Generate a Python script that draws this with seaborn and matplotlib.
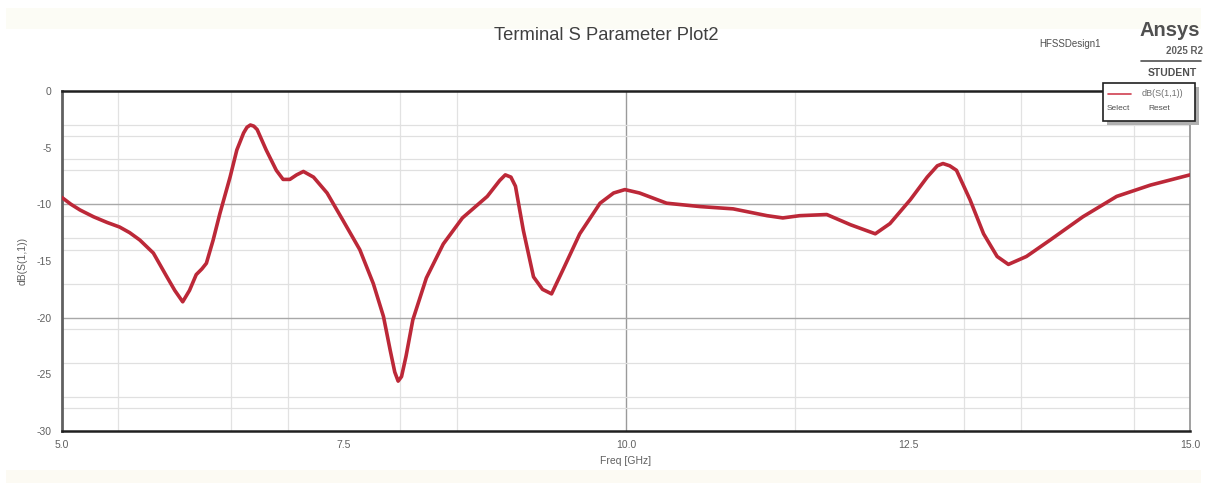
import matplotlib
matplotlib.use("Agg")
import matplotlib.pyplot as plt
from matplotlib.patches import Rectangle
import seaborn as sns
import pandas as pd

# ---------------- data ----------------
freq_ghz = [5.00, 5.08, 5.16, 5.28, 5.40, 5.51, 5.60, 5.69, 5.81, 5.93, 6.00, 6.07,
            6.13, 6.19, 6.24, 6.28, 6.34, 6.40, 6.49, 6.55, 6.61, 6.64, 6.67, 6.70,
            6.73, 6.81, 6.90, 6.96, 7.02, 7.08, 7.14, 7.23, 7.35, 7.49, 7.64, 7.76,
            7.85, 7.91, 7.95, 7.98, 8.01, 8.05, 8.11, 8.23, 8.38, 8.55, 8.77, 8.88,
            8.93, 8.98, 9.02, 9.09, 9.18, 9.26, 9.34, 9.44, 9.59, 9.77, 9.89, 9.99,
            10.12, 10.36, 10.66, 10.95, 11.25, 11.39, 11.54, 11.78, 11.99, 12.21,
            12.34, 12.52, 12.67, 12.76, 12.81, 12.87, 12.93, 13.05, 13.17, 13.29,
            13.39, 13.55, 13.76, 14.05, 14.35, 14.65, 15.00]
s11_db = [-9.4, -10.0, -10.5, -11.1, -11.6, -12.0, -12.5, -13.15, -14.3, -16.4, -17.6, -18.6,
          -17.6, -16.2, -15.7, -15.2, -13.15, -10.8, -7.6, -5.2, -3.7, -3.2, -3.0, -3.1,
          -3.4, -5.2, -7.0, -7.8, -7.8, -7.4, -7.1, -7.6, -9.0, -11.4, -14.0, -17.0,
          -19.9, -22.9, -24.8, -25.6, -25.2, -23.4, -20.2, -16.5, -13.5, -11.2, -9.3, -7.9,
          -7.4, -7.6, -8.4, -12.3, -16.4, -17.5, -17.9, -15.8, -12.6, -9.9, -9.0, -8.7,
          -9.0, -9.9, -10.2, -10.4, -11.0, -11.2, -11.0, -10.9, -11.8, -12.6,
          -11.7, -9.6, -7.6, -6.6, -6.4, -6.6, -7.0, -9.6, -12.6, -14.6,
          -15.3, -14.6, -13.15, -11.1, -9.3, -8.3, -7.4]

x_major = [5.0, 7.5, 10.0, 12.5, 15.0]
x_grid = [5.5, 6.5, 7.0, 8.0, 8.5, 10.0, 11.5, 13.0, 13.5, 14.5]
y_major = [0, -5, -10, -15, -20, -25, -30]
y_grid = [-3, -4, -6, -7, -10, -11, -13, -14, -17, -20, -21, -24, -27, -28]

title = "Terminal S Parameter Plot2"
x_label = "Freq [GHz]"
y_label = "dB(S(1,1))"
series_name = "dB(S(1,1))"

df = pd.DataFrame({"freq": freq_ghz, "s11": s11_db})

# ---------------- style ----------------
sns.set_style("white")
plt.rcParams["font.family"] = ["Liberation Sans", "DejaVu Sans"]

W, H = 1208, 483
fig = plt.figure(figsize=(W / 100, H / 100), dpi=100)
fig.patch.set_facecolor("white")

def fx(px):
    return px / W

def fy(py):
    return 1 - py / H

# cream strips top and bottom
fig.patches.append(Rectangle((fx(6), fy(29)), fx(1195), (29 - 8) / H,
                             transform=fig.transFigure, facecolor="#fcfcf5",
                             edgecolor="none", zorder=0))
fig.patches.append(Rectangle((fx(6), 0), fx(1195), 13 / H,
                             transform=fig.transFigure, facecolor="#fcfaf3",
                             edgecolor="none", zorder=0))

ax = fig.add_axes([fx(62), fy(431), fx(1190 - 62), (431 - 91) / H])
ax.set_facecolor("white")

sns.lineplot(data=df, x="freq", y="s11", ax=ax, color="#bc2838", linewidth=2.6,
             legend=False, zorder=5)

ax.set_xlim(5.0, 15.0)
ax.set_ylim(-30, 0)

# grid lines
for xv in x_grid:
    ax.axvline(xv, color="#9a9a9a" if xv == 10.0 else "#e2e2e2",
               linewidth=1.0 if xv == 10.0 else 0.9, zorder=1)
for yv in y_grid:
    ax.axhline(yv, color="#a8a8a8" if yv in (-10, -20) else "#e0e0e0",
               linewidth=1.0 if yv in (-10, -20) else 0.9, zorder=1)

ax.set_xticks(x_major)
ax.set_xticklabels([f"{v:.1f}" for v in x_major])
ax.set_xticks(x_grid, minor=True)
ax.set_yticks(y_major)
ax.set_yticklabels([f"{v:d}" for v in y_major])
ax.set_yticks(y_grid, minor=True)

ax.tick_params(axis="both", which="both", direction="inout", color="#404040",
               labelsize=7.5, labelcolor="#606060")
ax.tick_params(axis="both", which="major", length=7, width=1.0)
ax.tick_params(axis="both", which="minor", length=5, width=1.0)
ax.tick_params(axis="x", pad=3)
ax.tick_params(axis="y", pad=4)

for side in ("top", "bottom"):
    ax.spines[side].set_color("#202020")
    ax.spines[side].set_linewidth(1.8)
ax.spines["left"].set_color("#606060")
ax.spines["left"].set_linewidth(2.0)
ax.spines["right"].set_color("#909090")
ax.spines["right"].set_linewidth(1.2)

ax.set_xlabel(x_label, fontsize=7.5, color="#606060", labelpad=4)
ax.set_ylabel(y_label, fontsize=7.5, color="#606060", labelpad=6)

# title and branding
fig.text(fx(606), fy(36), title, ha="center", va="center", fontsize=13.2, color="#404040")
fig.text(fx(1070), fy(44), "HFSSDesign1", ha="center", va="center", fontsize=7, color="#505050")
fig.text(fx(1170), fy(31), "Ansys", ha="center", va="center", fontsize=14.5,
         fontweight="bold", color="#505050")
fig.text(fx(1184), fy(51), "2025 R2", ha="center", va="center", fontsize=7,
         fontweight="bold", color="#606060")
fig.add_artist(plt.Line2D([fx(1141), fx(1201)], [fy(61), fy(61)], color="#505050",
                          linewidth=1.2, transform=fig.transFigure))
fig.text(fx(1172), fy(73), "STUDENT", ha="center", va="center", fontsize=7.5,
         fontweight="bold", color="#505050")

# legend box
lx0, ly0, lx1, ly1 = 1103, 83, 1195, 121
fig.patches.append(Rectangle((fx(lx0 + 4), fy(ly1 + 4)), fx(lx1 - lx0), (ly1 - ly0) / H,
                             transform=fig.transFigure, facecolor="#b0b0b0",
                             edgecolor="none", zorder=8))
fig.patches.append(Rectangle((fx(lx0), fy(ly1)), fx(lx1 - lx0), (ly1 - ly0) / H,
                             transform=fig.transFigure, facecolor="white",
                             edgecolor="#202020", linewidth=1.2, zorder=9))
leg_line = plt.Line2D([fx(1108), fx(1131)], [fy(94), fy(94)], color="#d04050",
                      linewidth=1.2, transform=fig.transFigure, zorder=10)
fig.add_artist(leg_line)
fig.text(fx(1142), fy(94), series_name, ha="left", va="center", fontsize=6.5,
         color="#707070", zorder=10)
fig.text(fx(1107), fy(108), "Select", ha="left", va="center", fontsize=6,
         color="#505050", zorder=10)
fig.text(fx(1148), fy(108), "Reset", ha="left", va="center", fontsize=6,
         color="#505050", zorder=10)

fig.savefig("out.png", dpi=100)
